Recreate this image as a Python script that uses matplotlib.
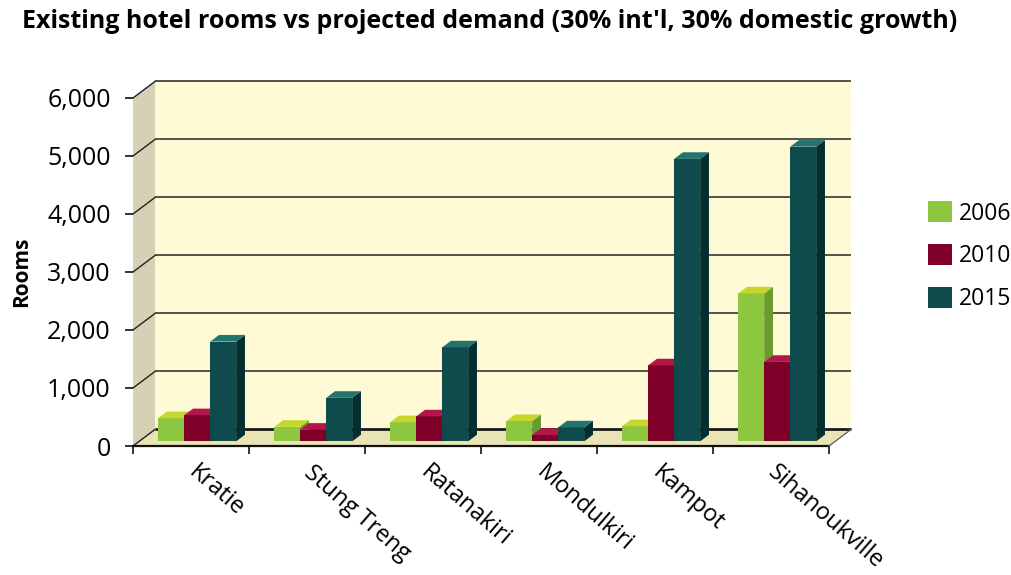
import matplotlib
matplotlib.use("Agg")
import matplotlib.pyplot as plt
from matplotlib.patches import Polygon, Patch

categories = ["Kratie", "Stung Treng", "Ratanakiri", "Mondulkiri", "Kampot", "Sihanoukville"]
series_names = ["2006", "2010", "2015"]
rooms_2006 = [400, 250, 330, 350, 260, 2550]
rooms_2010 = [450, 200, 430, 110, 1310, 1370]
rooms_2015 = [1720, 750, 1620, 240, 4870, 5080]
yticks = [0, 1000, 2000, 3000, 4000, 5000, 6000]
title = "Existing hotel rooms vs projected demand (30% int'l, 30% domestic growth)"

front_cols = ["#8DC63F", "#7E0029", "#0F4B4C"]
top_cols = ["#C6D62C", "#B3164A", "#23736F"]
side_cols = ["#6B9B2E", "#5A001C", "#022F30"]

FONT = ["Open Sans", "DejaVu Sans"]
plt.rcParams['font.family'] = FONT

W, H = 1011, 575
fig = plt.figure(figsize=(W / 100, H / 100), dpi=100)
ax = fig.add_axes([133 / W, (H - 446) / H, 696 / W, 348 / H])
ax.set_xlim(0, 6)
ax.set_ylim(0, 6000)
ax.patch.set_visible(False)
for s in ax.spines.values():
    s.set_visible(False)

n = len(categories)
ymax = yticks[-1]
DX, DY = 0.19, 286.0       # depth of the box (category units, value units)
f = 0.28                    # depth position of the bar row
bd = 0.40                   # bar depth fraction
bw = 0.224                  # bar width
g0 = 0.164                  # group start inside category

def poly(pts, fc, ec="none", lw=0, z=1):
    ax.add_patch(Polygon(pts, closed=True, facecolor=fc, edgecolor=ec, linewidth=lw,
                         zorder=z, clip_on=False))

# walls and floor
poly([(DX, DY), (n + DX, DY), (n + DX, ymax + DY), (DX, ymax + DY)], "#FFFAD6", z=1)
poly([(0, 0), (DX, DY), (DX, ymax + DY), (0, ymax)], "#D5D1B4", z=1)
poly([(0, 0), (n, 0), (n + DX, DY), (DX, DY)], "#EAE3B5", z=1)

# gridlines on back wall and left wall
for v in yticks:
    col = "#1a1a1a" if v == 0 else "#444444"
    lwv = 2.0 if v == 0 else 1.3
    ax.plot([DX, n + DX], [v + DY, v + DY], color=col, lw=lwv, zorder=2, clip_on=False,
            solid_capstyle="butt")
    ax.plot([0, DX], [v, v + DY], color="#222222", lw=1.0, zorder=2, clip_on=False)
# floor edges
ax.plot([0, n], [0, 0], color="#111111", lw=1.6, zorder=2, clip_on=False)
ax.plot([n, n + DX], [0, DY], color="#666666", lw=1.0, zorder=2, clip_on=False)

# bars
series = [rooms_2006, rooms_2010, rooms_2015]
base = f * DY
for c in range(n):
    for i, vals in enumerate(series):
        v = vals[c]
        x0 = c + g0 + f * DX + i * bw
        top = base + v
        ddx, ddy = bd * DX, bd * DY
        z = 3 + c * 0.01 + i * 0.001
        ax.bar(x0, v, width=bw, bottom=base, align="edge", color=front_cols[i],
               zorder=z, clip_on=False, linewidth=0)
        poly([(x0 + bw, base), (x0 + bw, top), (x0 + bw + ddx, top + ddy),
              (x0 + bw + ddx, base + ddy)], side_cols[i], z=z)
        poly([(x0, top), (x0 + bw, top), (x0 + bw + ddx, top + ddy),
              (x0 + ddx, top + ddy)], top_cols[i], z=z)

# axes ticks
ax.set_yticks(yticks)
ax.set_yticklabels([f"{v:,}" for v in yticks])
ax.tick_params(axis="y", length=6, width=1.2, pad=10, labelsize=18, direction="out",
               color="#111111")
ax.set_xticks(range(n + 1))
ax.set_xticklabels([])
ax.tick_params(axis="x", length=5.5, width=1.2, direction="out", color="#111111")

for c, name in enumerate(categories):
    ax.text(c + 0.57, -250, name, rotation=-41, rotation_mode="anchor",
            ha="left", va="top", fontsize=17)

ax.set_ylabel("Rooms", fontsize=15, fontweight="bold")
ax.yaxis.set_label_coords(-0.145, 0.5)

handles = [Patch(facecolor=col, edgecolor="none") for col in front_cols]
fig.legend(handles, series_names, loc="upper left", bbox_to_anchor=(919 / W, 1 - 192 / H),
           frameon=False, fontsize=16.5, handlelength=1.05, handleheight=1.05,
           handletextpad=0.3, labelspacing=0.8, borderaxespad=0)

fig.text(22 / W, 1 - 9 / H, title, ha="left", va="top", fontsize=18, fontweight="bold")

fig.savefig("out.png", dpi=100)
